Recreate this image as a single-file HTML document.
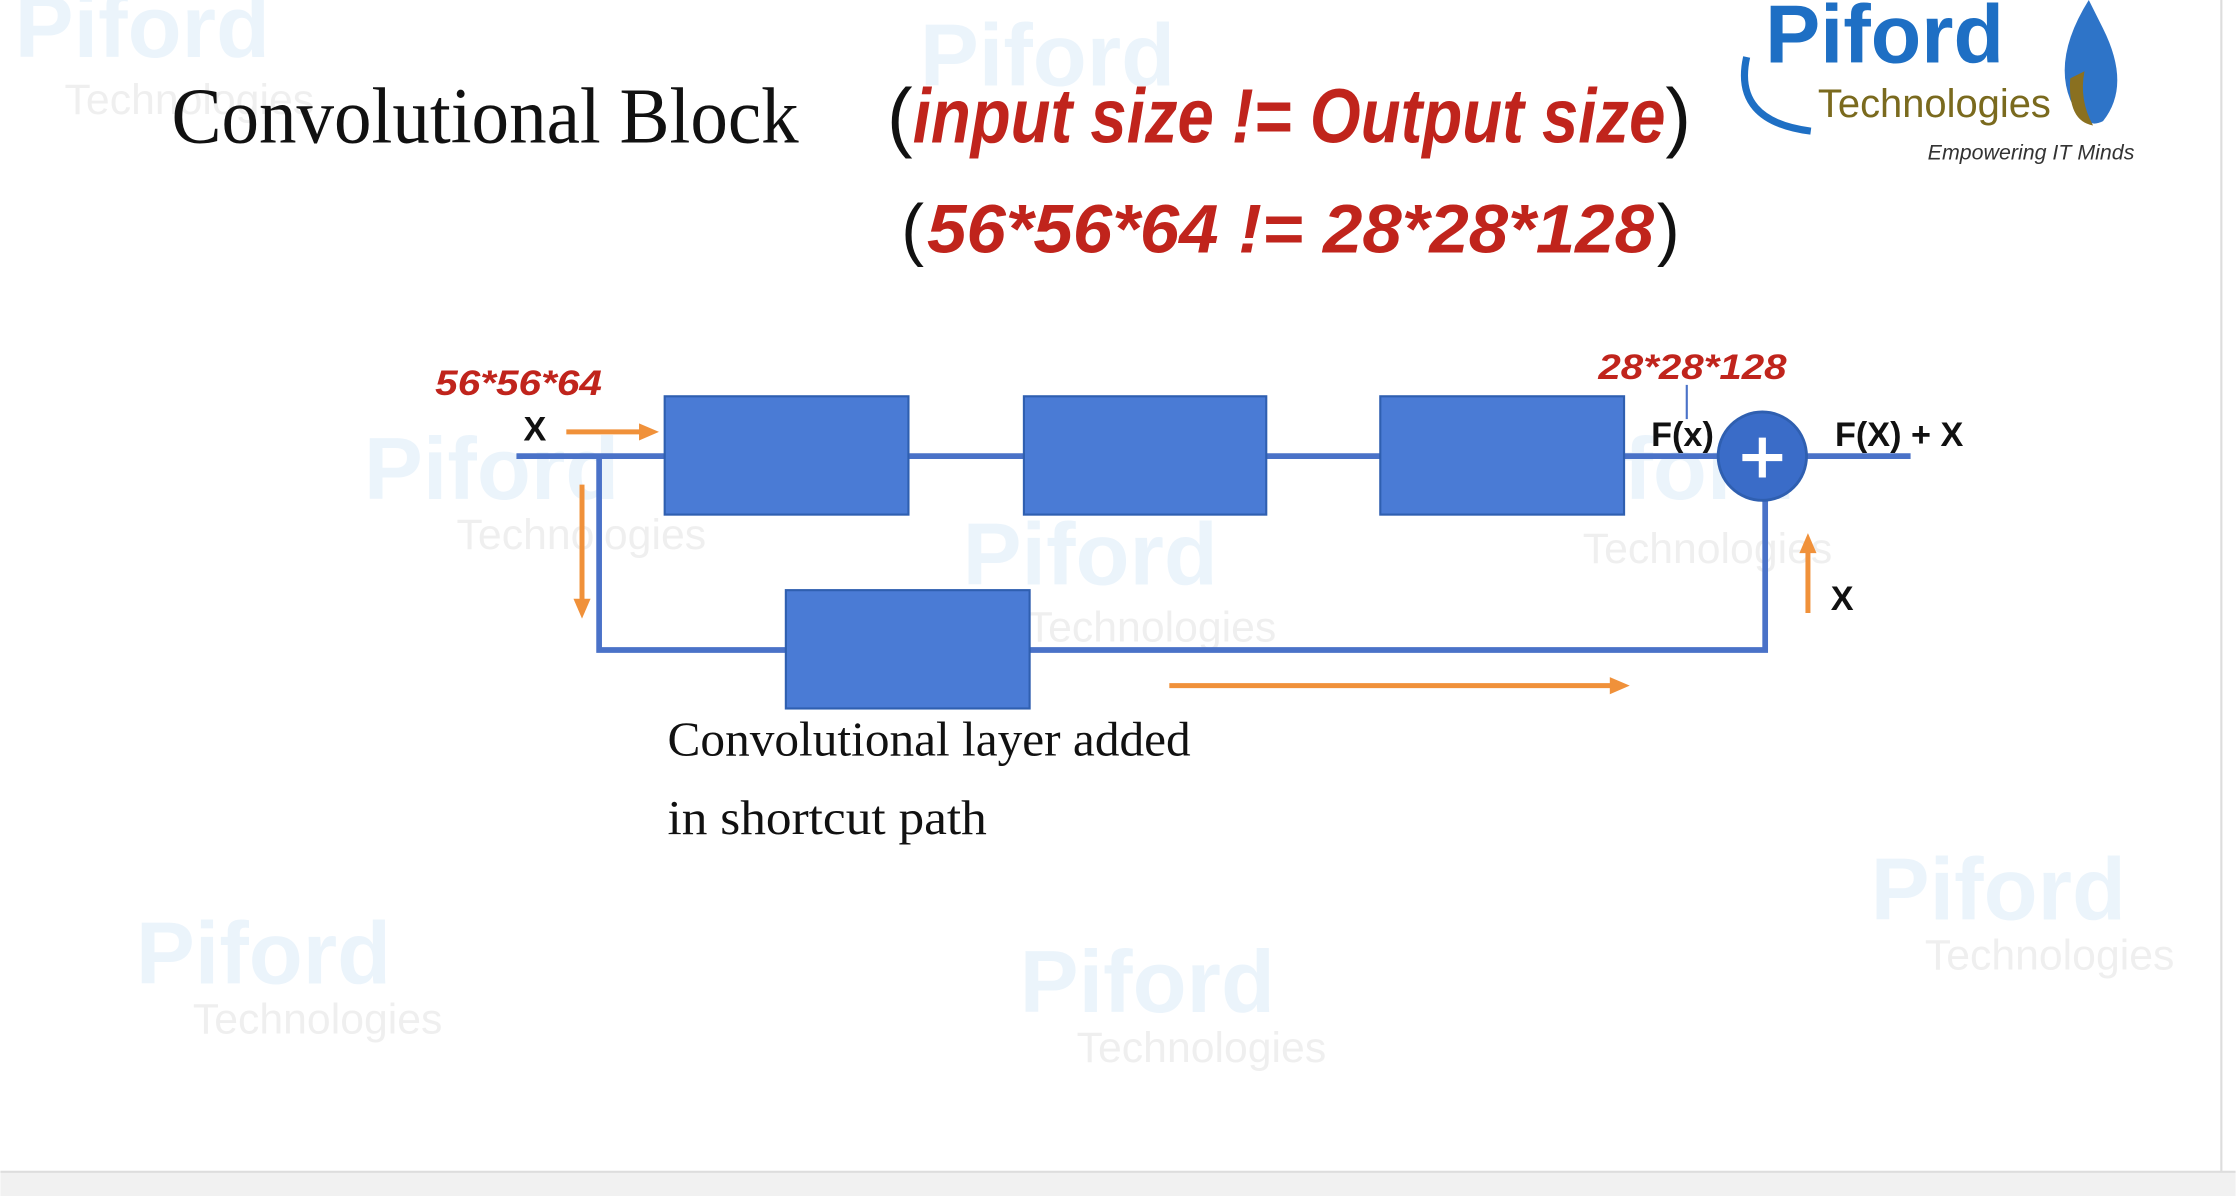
<!DOCTYPE html>
<html><head><meta charset="utf-8"><style>
html,body{margin:0;padding:0;background:#fff;}
svg{display:block;}
</style></head><body>
<svg width="2236" height="1196" viewBox="0 0 1568 839" xmlns="http://www.w3.org/2000/svg">
<rect width="1568" height="839" fill="#fff"/>
<rect x="0" y="822" width="1568" height="17" fill="#f1f1f1"/>
<line x1="1558" y1="0" x2="1558" y2="822" stroke="#ddd" stroke-width="1.5"/>
<line x1="0" y1="822" x2="1568" y2="822" stroke="#ddd" stroke-width="1.5"/>

<!-- faint watermarks -->
<g font-family="Liberation Sans, sans-serif" opacity="0.09">
 <g fill="#2a8ad8" font-weight="bold" font-size="62">
  <text x="10" y="40">Piford</text><text x="645" y="60">Piford</text>
  <text x="255" y="350">Piford</text><text x="675" y="410">Piford</text>
  <text x="1080" y="350">Piford</text><text x="95" y="690">Piford</text>
  <text x="715" y="710">Piford</text><text x="1312" y="645">Piford</text>
 </g>
 <g fill="#555" font-size="30">
  <text x="45" y="80">Technologies</text><text x="320" y="385">Technologies</text>
  <text x="720" y="450">Technologies</text><text x="1110" y="395">Technologies</text>
  <text x="135" y="725">Technologies</text><text x="755" y="745">Technologies</text>
  <text x="1350" y="680">Technologies</text>
 </g>
</g>

<!-- title -->
<text x="120" y="100" font-family="Liberation Serif, serif" font-size="56" fill="#111" textLength="440" lengthAdjust="spacingAndGlyphs">Convolutional Block</text>
<text x="622" y="100" font-family="Liberation Sans, sans-serif" font-size="54" fill="#111">(</text>
<text x="640" y="100" font-family="Liberation Sans, sans-serif" font-size="54" fill="#c0241c" font-style="italic" font-weight="bold" textLength="528" lengthAdjust="spacingAndGlyphs">input size != Output size</text>
<text x="1168" y="100" font-family="Liberation Sans, sans-serif" font-size="54" fill="#111">)</text>
<text x="632" y="177" font-family="Liberation Sans, sans-serif" font-size="48" fill="#111">(</text>
<text x="650" y="177" font-family="Liberation Sans, sans-serif" font-size="48" fill="#c0241c" font-style="italic" font-weight="bold" textLength="510" lengthAdjust="spacingAndGlyphs">56*56*64 != 28*28*128</text>
<text x="1162" y="177" font-family="Liberation Sans, sans-serif" font-size="48" fill="#111">)</text>

<!-- logo -->
<text x="1238" y="44" font-family="Liberation Sans, sans-serif" font-weight="bold" font-size="58" fill="#1e6fc4">Piford</text>
<text x="1275" y="82" font-family="Liberation Sans, sans-serif" font-size="28" fill="#7a6a1e">Technologies</text>
<text x="1352" y="112" font-family="Liberation Sans, sans-serif" font-style="italic" font-size="15" fill="#333">Empowering IT Minds</text>
<path d="M1225 40 Q1215 85 1270 92" fill="none" stroke="#1e6fc4" stroke-width="5"/>
<path d="M1465 0 Q1440 40 1452 70 Q1462 92 1475 85 Q1495 60 1475 20 Z" fill="#2e74c8"/>
<path d="M1452 55 Q1450 85 1468 88 Q1458 70 1462 50 Z" fill="#8a7020"/>

<!-- connectors -->
<g stroke="#4a72c8" stroke-width="4" fill="none">
 <line x1="362" y1="320" x2="1340" y2="320"/>
 <polyline points="420,320 420,456 1238,456 1238,345"/>
</g>
<g fill="#4a7bd5" stroke="#2f5fb0" stroke-width="1.5">
 <rect x="466" y="278" width="171" height="83"/>
 <rect x="718" y="278" width="170" height="83"/>
 <rect x="968" y="278" width="171" height="83"/>
 <rect x="551" y="414" width="171" height="83"/>
</g>
<circle cx="1236" cy="320" r="31" fill="#3a6cc8" stroke="#2f5fb0" stroke-width="2"/>
<line x1="1222" y1="321" x2="1250" y2="321" stroke="#fff" stroke-width="5"/>
<line x1="1236" y1="307" x2="1236" y2="335" stroke="#fff" stroke-width="5"/>

<!-- orange arrows -->
<g stroke="#f0913a" stroke-width="3.5" fill="#f0913a">
 <line x1="397" y1="303" x2="450" y2="303"/><polygon points="462,303 448,297 448,309" stroke="none"/>
 <line x1="408" y1="340" x2="408" y2="422"/><polygon points="408,434 402,420 414,420" stroke="none"/>
 <line x1="1268" y1="430" x2="1268" y2="386"/><polygon points="1268,374 1262,388 1274,388" stroke="none"/>
 <line x1="820" y1="481" x2="1130" y2="481"/><polygon points="1143,481 1129,475 1129,487" stroke="none"/>
</g>
<line x1="1183" y1="270" x2="1183" y2="294" stroke="#4a72c8" stroke-width="1.5"/>

<!-- labels -->
<g font-family="Liberation Sans, sans-serif" font-weight="bold">
 <text x="305" y="277" font-size="25" font-style="italic" fill="#c0241c" textLength="117" lengthAdjust="spacingAndGlyphs">56*56*64</text>
 <text x="1121" y="266" font-size="25" font-style="italic" fill="#c0241c" textLength="132" lengthAdjust="spacingAndGlyphs">28*28*128</text>
 <text x="367" y="309" font-size="24" fill="#111">X</text>
 <text x="1158" y="313" font-size="24" fill="#111">F(x)</text>
 <text x="1287" y="313" font-size="24" fill="#111">F(X) + X</text>
 <text x="1284" y="428" font-size="24" fill="#111">X</text>
</g>
<text x="468" y="530" font-family="Liberation Serif, serif" font-size="34" fill="#111" textLength="367" lengthAdjust="spacingAndGlyphs">Convolutional layer added</text>
<text x="468" y="585" font-family="Liberation Serif, serif" font-size="34" fill="#111" textLength="224" lengthAdjust="spacingAndGlyphs">in shortcut path</text>
</svg>
</body></html>
